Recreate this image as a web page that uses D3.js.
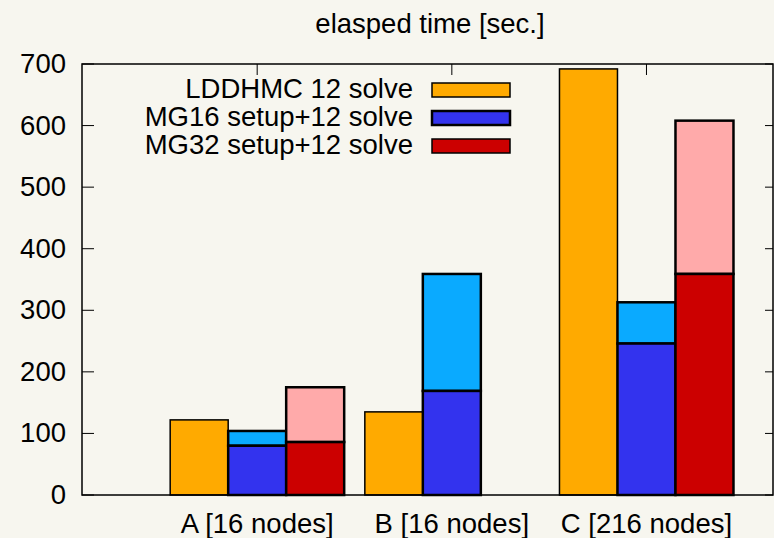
<!DOCTYPE html>
<html>
<head>
<meta charset="utf-8">
<script src="https://cdn.jsdelivr.net/npm/d3@7"></script>
<style>
  body { margin: 0; background: #f7f6ef; }
  svg { display: block; font-family: "Liberation Sans", Arial, sans-serif; }
</style>
</head>
<body>
<div class="chart"></div>
<script>
// data
const groups = ["A [16 nodes]", "B [16 nodes]", "C [216 nodes]"]
const series = ["LDDHMC 12 solve", "MG16 setup+12 solve", "MG32 setup+12 solve"]
// lower part (solve) and upper part (setup) of each bar
const lddhmc = [122, 135, 692]
const mg16Solve = [80, 169, 246]
const mg16Total = [104, 359, 313]
const mg32Solve = [86, 0, 359]
const mg32Total = [175, 0, 608]
const yTicks = [0, 100, 200, 300, 400, 500, 600, 700]

const width = 774, height = 538
const margin = {top: 64, right: 1, bottom: 43, left: 82}
const fontSize = "27.5px"

const solidColors = ["#ffaa00", "#3333ee", "#cc0000"]
const lightColors = ["#ffaa00", "#0aaaff", "#ffaaaa"]

const svg = d3.select(".chart").append("svg")
    .attr("width", width)
    .attr("height", height)

svg.append("rect").attr("width", width).attr("height", height).attr("fill", "#f7f6ef")

const x = d3.scaleLinear()
    .domain([-0.9, 2.65])
    .range([margin.left, width - margin.right])

const y = d3.scaleLinear()
    .domain([0, 700])
    .range([height - margin.bottom, margin.top])

const barW = 58
const offsets = [-barW, 0, barW]

// build bar segments
let segments = []
groups.forEach((g, i) => {
    segments.push({s: 0, i: i, lo: 0, hi: lddhmc[i], fill: lightColors[0]})
    segments.push({s: 1, i: i, lo: mg16Solve[i], hi: mg16Total[i], fill: lightColors[1]})
    segments.push({s: 1, i: i, lo: 0, hi: mg16Solve[i], fill: solidColors[1]})
    segments.push({s: 2, i: i, lo: mg32Solve[i], hi: mg32Total[i], fill: lightColors[2]})
    segments.push({s: 2, i: i, lo: 0, hi: mg32Solve[i], fill: solidColors[2]})
})
segments = segments.filter(d => d.hi > d.lo)

svg.selectAll("rect.seg")
    .data(segments)
    .enter().append("rect")
    .attr("class", "seg")
    .attr("x", d => x(d.i) + offsets[d.s] - barW / 2)
    .attr("y", d => y(d.hi))
    .attr("width", barW)
    .attr("height", d => y(d.lo) - y(d.hi))
    .attr("fill", d => d.fill)
    .attr("stroke", "#000")
    .attr("stroke-width", d => d.s === 0 ? 1.5 : 2.5)

// frame
svg.append("rect")
    .attr("x", margin.left)
    .attr("y", margin.top)
    .attr("width", width - margin.right - margin.left)
    .attr("height", height - margin.bottom - margin.top)
    .attr("fill", "none")
    .attr("stroke", "#000")
    .attr("stroke-width", 1.5)

// y ticks left and right
const yAxis = svg.append("g")
yAxis.selectAll("line.l")
    .data(yTicks)
    .enter().append("line")
    .attr("x1", margin.left).attr("x2", margin.left + 12)
    .attr("y1", d => y(d)).attr("y2", d => y(d))
    .attr("stroke", "#000")
yAxis.selectAll("line.r")
    .data(yTicks)
    .enter().append("line")
    .attr("x1", width - margin.right - 8).attr("x2", width - margin.right)
    .attr("y1", d => y(d)).attr("y2", d => y(d))
    .attr("stroke", "#000")
yAxis.selectAll("text")
    .data(yTicks)
    .enter().append("text")
    .attr("x", 66)
    .attr("y", d => y(d) + 9)
    .attr("text-anchor", "end")
    .style("font-size", fontSize)
    .text(d => d)

// top ticks at group centres
svg.selectAll("line.top")
    .data(groups)
    .enter().append("line")
    .attr("x1", (d, i) => x(i)).attr("x2", (d, i) => x(i))
    .attr("y1", margin.top).attr("y2", margin.top + 11)
    .attr("stroke", "#000")

svg.selectAll("text.cat")
    .data(groups)
    .enter().append("text")
    .attr("x", (d, i) => x(i))
    .attr("y", 533)
    .attr("text-anchor", "middle")
    .style("font-size", fontSize)
    .text(d => d)

svg.append("text")
    .attr("x", 430)
    .attr("y", 33)
    .attr("text-anchor", "middle")
    .style("font-size", fontSize)
    .text("elasped time [sec.]")

// legend
const legend = svg.selectAll("g.legend")
    .data(series)
    .enter().append("g")
    .attr("class", "legend")
    .attr("transform", (d, i) => `translate(0, ${90 + i * 28})`)

legend.append("text")
    .attr("x", 413)
    .attr("y", 8)
    .attr("text-anchor", "end")
    .style("font-size", fontSize)
    .text(d => d)

legend.append("rect")
    .attr("x", 432)
    .attr("y", -7)
    .attr("width", 78)
    .attr("height", 14)
    .attr("fill", (d, i) => solidColors[i])
    .attr("stroke", "#000")
    .attr("stroke-width", (d, i) => i === 1 ? 2.5 : 1.5)
</script>
</body>
</html>
